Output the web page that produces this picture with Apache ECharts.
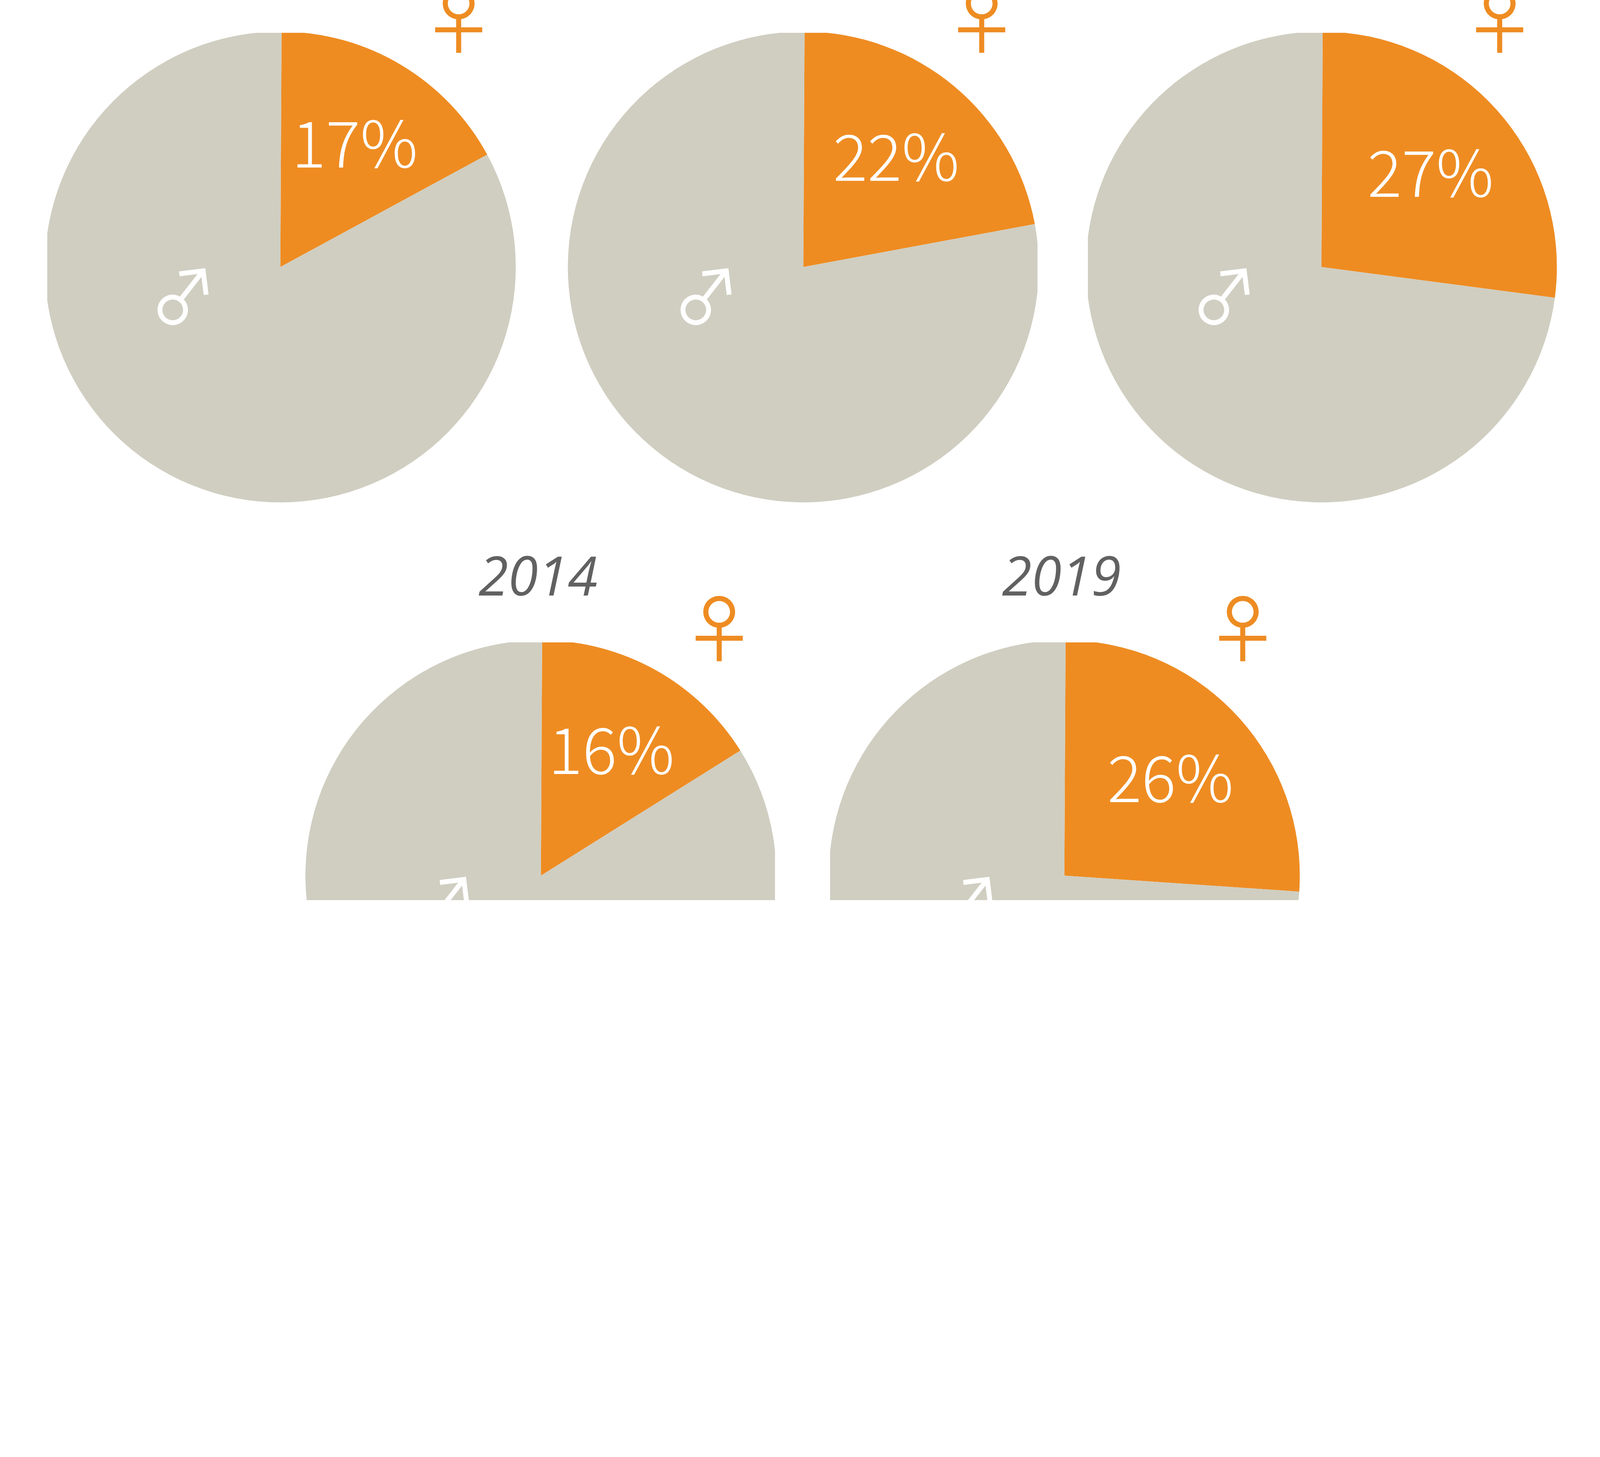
<!DOCTYPE html>
<html>
<head>
<meta charset="utf-8">
<script src="https://cdn.jsdelivr.net/npm/echarts@6/dist/echarts.min.js"></script>
<style>
  html, body { margin: 0; padding: 0; width: 100%; height: 100%; overflow: hidden; background: #fff; }
  #page { position: relative; width: 100%; height: 100%; overflow: hidden; }
  .pie { position: absolute; }
  #overlay { position: absolute; left: 0; top: 0; width: 100%; height: 100%; }
  #warm { position: absolute; left: -9999px; top: 0; font-size: 40px; }
</style>
</head>
<body>
<div id="page"><div id="overlay"></div></div>
<div id="warm">
  <span style="font-family:'Noto Sans CJK JP';font-weight:200">17%26%</span>
  <span style="font-family:'Noto Sans CJK JP';font-weight:400">♂♀</span>
  <span style="font-family:'Open Sans';font-style:italic">2014 2019</span>
</div>
<script>
// Anteil Frauen / Männer je Diagramm (in %)
const femaleShare = [17, 22, 27, 16, 26];
const maleShare = [83, 78, 73, 84, 74];
const panelYears = ['', '', '', '2014', '2019'];

const ORANGE = '#ee8c22';
const GREY = '#d0cec1';
const R = 976;

// layout in reference pixels (6632 x 3731): pie centre + clip box (left, top, right, bottom)
const panels = [
    { cx: 1162, cy: 1107, clip: [196, 136, 2150, 2095] },
    { cx: 3330, cy: 1107, clip: [2340, 136, 4300, 2095] },
    { cx: 5477, cy: 1107, clip: [4509, 136, 6470, 2095] },
    { cx: 2242, cy: 3630, clip: [1250, 2663, 3213, 3731] },
    { cx: 4412, cy: 3630, clip: [3441, 2663, 5400, 3731] }
];

let s = 1;
let charts = [];
function px(v) { return v * s; }

function initPie(i) {
    const p = panels[i];
    const box = p.clip;
    const dom = document.createElement('div');
    dom.className = 'pie';
    dom.style.left = px(box[0]) + 'px';
    dom.style.top = px(box[1]) + 'px';
    dom.style.width = px(box[2] - box[0]) + 'px';
    dom.style.height = px(box[3] - box[1]) + 'px';
    document.getElementById('page').insertBefore(dom, document.getElementById('overlay'));

    const chart = echarts.init(dom);
    charts.push(chart);
    const cx = px(p.cx - box[0]);
    const cy = px(p.cy - box[1]);
    const pieData = [
        { name: 'female', value: femaleShare[i], itemStyle: { color: ORANGE } },
        { name: 'male', value: maleShare[i], itemStyle: { color: GREY } }
    ];

    chart.setOption({
        animation: false,
        series: [
            {
                type: 'pie',
                center: [cx, cy],
                radius: px(R),
                startAngle: 89.7,
                silent: true,
                avoidLabelOverlap: false,
                label: { show: false },
                labelLine: { show: false },
                data: pieData
            },
            {
                // nur für die Prozentbeschriftung
                type: 'pie',
                center: [cx, cy],
                radius: [px(R * 0.22), px(R)],
                startAngle: 89.7,
                silent: true,
                avoidLabelOverlap: false,
                labelLine: { show: false },
                itemStyle: { color: 'rgba(0,0,0,0)' },
                label: {
                    show: true,
                    position: 'inside',
                    offset: [0, px(2)],
                    fontFamily: 'Noto Sans CJK JP',
                    fontWeight: 200,
                    fontSize: px(266),
                    color: '#fff',
                    formatter: function (d) { return d.dataIndex === 0 ? d.value + '%' : ''; }
                },
                data: pieData.map(function (d) { return { name: d.name, value: d.value }; })
            }
        ],
        graphic: [{
            type: 'text',
            z: 100,
            x: cx - px(403),
            y: cy + px(123),
            rotation: 7 * Math.PI / 180,
            silent: true,
            style: {
                text: '♂',
                fontFamily: 'Noto Sans CJK JP',
                fontSize: px(292),
                fill: '#fff',
                align: 'center',
                verticalAlign: 'middle'
            }
        }]
    });
}

function initOverlay() {
    const chart = echarts.init(document.getElementById('overlay'));
    charts.push(chart);
    const els = [];
    panels.forEach(function (p, i) {
        els.push({
            type: 'text', z: 100, x: px(p.cx + 739), y: px(p.cy - 1024), silent: true,
            style: {
                text: '♀', fontFamily: 'Noto Sans CJK JP', fontSize: px(305), fill: ORANGE,
                align: 'center', verticalAlign: 'middle'
            }
        });
        if (panelYears[i]) {
            els.push({
                type: 'text', z: 100, x: px(p.cx - 12), y: px(p.cy - 1224), silent: true,
                style: {
                    text: panelYears[i], fontFamily: 'Open Sans', fontStyle: 'italic',
                    fontSize: px(224), fill: '#616161', align: 'center', verticalAlign: 'middle'
                }
            });
        }
    });
    chart.setOption({ animation: false, graphic: els });
}

function renderAll() {
    charts.forEach(function (c) { c.dispose(); });
    charts = [];
    document.querySelectorAll('.pie').forEach(function (d) { d.remove(); });
    s = window.innerWidth / 6632;
    panels.forEach(function (p, i) { initPie(i); });
    initOverlay();
}

document.addEventListener('DOMContentLoaded', function () {
    if (typeof echarts === 'undefined') {
        console.error('ECharts not loaded');
        return;
    }
    renderAll();
    document.fonts.ready.then(function () {
        requestAnimationFrame(function () { renderAll(); });
    });
    setTimeout(renderAll, 400);
});
</script>
</body>
</html>
